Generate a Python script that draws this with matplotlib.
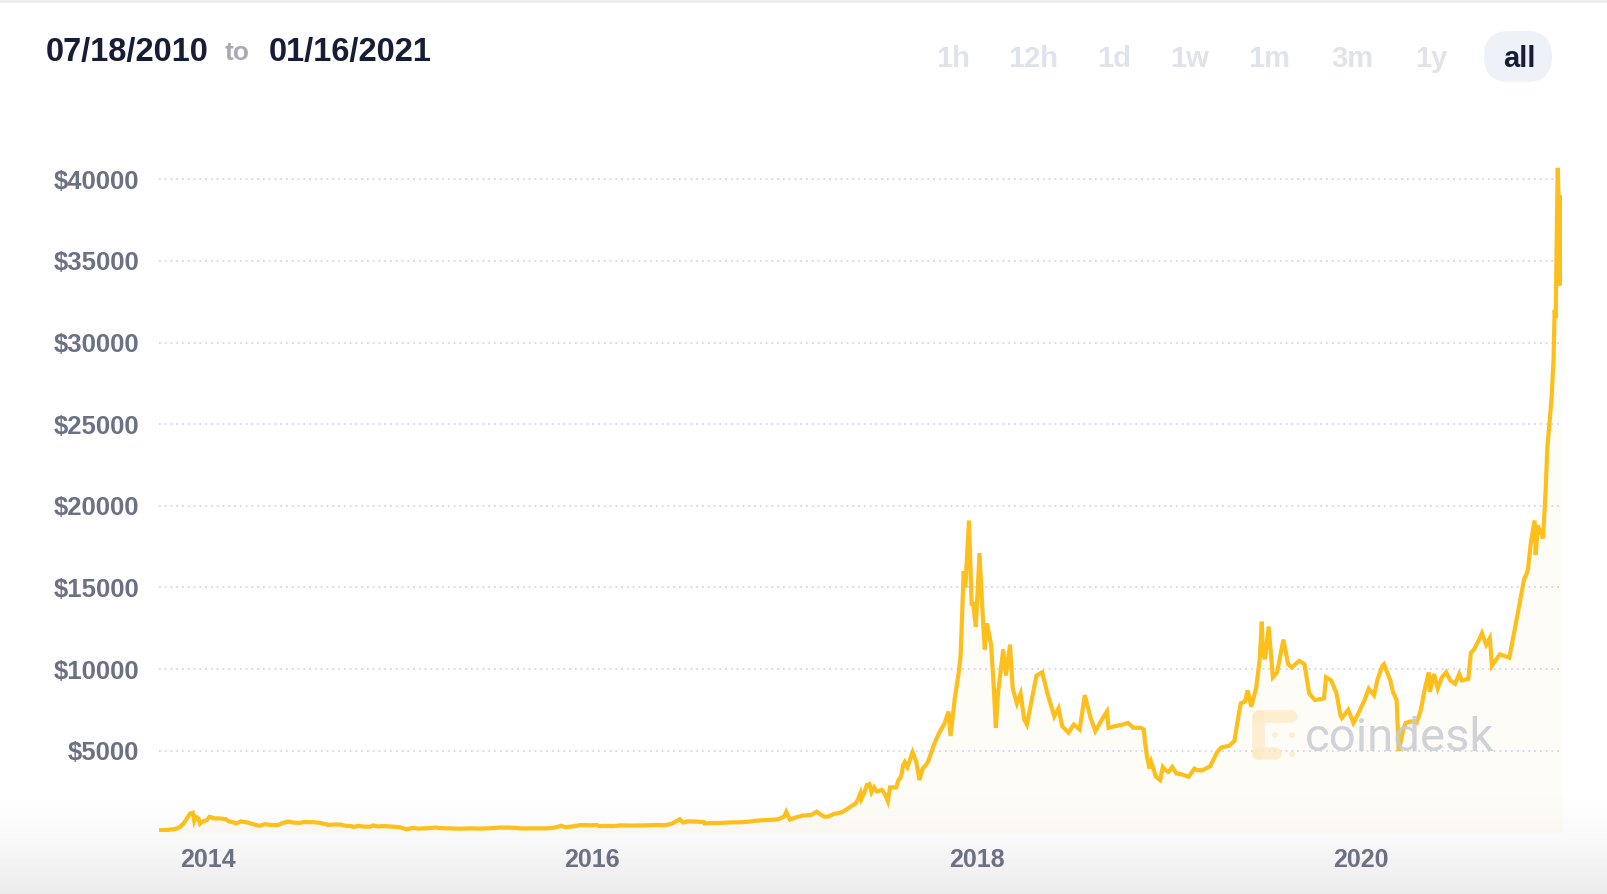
"""
Bitcoin price chart (coindesk style)
"""

import numpy as np
import pandas as pd
import matplotlib

matplotlib.use("Agg")
import matplotlib.pyplot as plt
import matplotlib.dates as mdates
from matplotlib.patches import Circle, FancyBboxPatch


# price points, grouped per year
d2013 = ["2013-10-01", "2013-10-15", "2013-11-01", "2013-11-10", "2013-11-18", "2013-11-22",
         "2013-11-29", "2013-12-04", "2013-12-07", "2013-12-10", "2013-12-15", "2013-12-18",
         "2013-12-22", "2013-12-31"]
p2013 = [125, 140, 205, 330, 600, 800, 1150, 1200, 700, 950, 850, 530, 650, 750]

d2014 = ["2014-01-05", "2014-01-15", "2014-01-25", "2014-02-05", "2014-02-10", "2014-02-20",
         "2014-02-25", "2014-03-05", "2014-03-20", "2014-04-01", "2014-04-10", "2014-04-20",
         "2014-05-01", "2014-05-15", "2014-05-25", "2014-06-03", "2014-06-15", "2014-06-25",
         "2014-07-05", "2014-07-20", "2014-08-01", "2014-08-15", "2014-08-18", "2014-09-01",
         "2014-09-10", "2014-09-20", "2014-10-01", "2014-10-05", "2014-10-15", "2014-10-25",
         "2014-11-05", "2014-11-12", "2014-11-20", "2014-12-01", "2014-12-15", "2014-12-31"]
p2014 = [950, 850, 850, 800, 680, 600, 550, 670, 590, 460, 400, 500,
         450, 445, 580, 650, 590, 580, 630, 620, 590, 490, 450, 480,
         475, 400, 380, 330, 390, 350, 340, 420, 360, 380, 350, 320]

d2015 = ["2015-01-05", "2015-01-14", "2015-01-25", "2015-02-05", "2015-02-20", "2015-03-10",
         "2015-03-25", "2015-04-10", "2015-04-25", "2015-05-15", "2015-06-01", "2015-06-20",
         "2015-07-10", "2015-07-25", "2015-08-10", "2015-08-20", "2015-09-10", "2015-10-01",
         "2015-10-20", "2015-11-04", "2015-11-11", "2015-11-25", "2015-12-10", "2015-12-31"]
p2015 = [275, 180, 270, 225, 245, 290, 250, 235, 220, 240, 225, 245,
         290, 290, 265, 235, 240, 238, 270, 400, 310, 360, 440, 430]

d2016 = ["2016-01-10", "2016-01-15", "2016-01-25", "2016-02-10", "2016-02-25", "2016-03-10",
         "2016-03-25", "2016-04-15", "2016-05-01", "2016-05-20", "2016-06-01", "2016-06-16",
         "2016-06-22", "2016-07-01", "2016-07-15", "2016-08-01", "2016-08-02", "2016-08-15",
         "2016-09-01", "2016-09-20", "2016-10-10", "2016-10-25", "2016-11-05", "2016-11-20",
         "2016-12-05", "2016-12-20", "2016-12-31"]
p2016 = [450, 380, 390, 380, 425, 415, 415, 430, 450, 440, 530, 800,
         600, 670, 660, 620, 540, 570, 575, 605, 615, 650, 700, 740,
         760, 800, 960]

d2017 = ["2017-01-04", "2017-01-11", "2017-01-20", "2017-02-05", "2017-02-20", "2017-03-03",
         "2017-03-10", "2017-03-18", "2017-03-25", "2017-04-05", "2017-04-20", "2017-05-05",
         "2017-05-15", "2017-05-20", "2017-05-25", "2017-05-27", "2017-06-01", "2017-06-06",
         "2017-06-11", "2017-06-15", "2017-06-20", "2017-06-25", "2017-07-05", "2017-07-10",
         "2017-07-16", "2017-07-20", "2017-08-01", "2017-08-05", "2017-08-10", "2017-08-14",
         "2017-08-17", "2017-08-22", "2017-09-01", "2017-09-08", "2017-09-14", "2017-09-20",
         "2017-09-28", "2017-10-01", "2017-10-12", "2017-10-20", "2017-11-01", "2017-11-08",
         "2017-11-12", "2017-11-20", "2017-11-28", "2017-12-01", "2017-12-07", "2017-12-10",
         "2017-12-17", "2017-12-22", "2017-12-25", "2017-12-30"]
p2017 = [1250, 780, 890, 1030, 1060, 1260, 1100, 950, 970, 1130, 1230, 1550,
         1750, 2000, 2400, 2050, 2400, 2900, 2950, 2450, 2750, 2500, 2600, 2350,
         1900, 2750, 2750, 3200, 3400, 4100, 4300, 4000, 4900, 4300, 3200, 3900,
         4200, 4400, 5400, 6000, 6700, 7400, 5900, 8200, 9900, 10800, 16000, 15000,
         19100, 14000, 14000, 12600]

d2018 = ["2018-01-06", "2018-01-10", "2018-01-16", "2018-01-20", "2018-01-28", "2018-02-02",
         "2018-02-06", "2018-02-10", "2018-02-20", "2018-02-25", "2018-03-05", "2018-03-10",
         "2018-03-18", "2018-03-25", "2018-04-01", "2018-04-06", "2018-04-15", "2018-04-24",
         "2018-05-05", "2018-05-15", "2018-05-28", "2018-06-05", "2018-06-12", "2018-06-24",
         "2018-07-04", "2018-07-15", "2018-07-25", "2018-08-05", "2018-08-14", "2018-08-28",
         "2018-09-05", "2018-09-08", "2018-09-20", "2018-10-05", "2018-10-15", "2018-10-25",
         "2018-11-08", "2018-11-14", "2018-11-16", "2018-11-20", "2018-11-25", "2018-11-28",
         "2018-12-07", "2018-12-15", "2018-12-20", "2018-12-25", "2018-12-31"]
p2018 = [17100, 14500, 11200, 12800, 11500, 8900, 6400, 8500, 11200, 9600, 11500, 8800,
         7900, 8500, 6900, 6600, 8100, 9600, 9800, 8500, 7100, 7600, 6500, 6100,
         6600, 6300, 8400, 7000, 6200, 7000, 7400, 6400, 6500, 6600, 6700, 6400,
         6400, 6300, 5600, 4600, 3900, 4300, 3400, 3200, 4000, 3800, 3700]

d2019 = ["2019-01-07", "2019-01-15", "2019-01-25", "2019-02-07", "2019-02-18", "2019-02-24",
         "2019-03-05", "2019-03-20", "2019-04-02", "2019-04-10", "2019-04-25", "2019-05-05",
         "2019-05-12", "2019-05-17", "2019-05-25", "2019-05-30", "2019-06-06", "2019-06-15",
         "2019-06-22", "2019-06-26", "2019-06-28", "2019-07-02", "2019-07-09", "2019-07-15",
         "2019-07-17", "2019-07-25", "2019-08-06", "2019-08-15", "2019-08-22", "2019-09-05",
         "2019-09-15", "2019-09-24", "2019-10-05", "2019-10-22", "2019-10-26", "2019-11-05",
         "2019-11-15", "2019-11-22", "2019-11-25", "2019-12-07", "2019-12-17", "2019-12-25"]
p2019 = [4000, 3600, 3550, 3400, 3900, 3800, 3800, 4050, 4900, 5200, 5300, 5600,
         7000, 7900, 8000, 8700, 7700, 8800, 10600, 12900, 11000, 10600, 12600, 10300,
         9500, 9800, 11800, 10300, 10100, 10500, 10300, 8500, 8100, 8200, 9500, 9300,
         8500, 7200, 7000, 7500, 6700, 7200]

d2020 = ["2020-01-07", "2020-01-15", "2020-01-25", "2020-02-01", "2020-02-10", "2020-02-13",
         "2020-02-25", "2020-03-01", "2020-03-08", "2020-03-12", "2020-03-13", "2020-03-20",
         "2020-03-25", "2020-04-05", "2020-04-15", "2020-04-23", "2020-04-30", "2020-05-08",
         "2020-05-10", "2020-05-18", "2020-05-25", "2020-06-02", "2020-06-10", "2020-06-18",
         "2020-06-27", "2020-07-05", "2020-07-10", "2020-07-22", "2020-07-27", "2020-08-02",
         "2020-08-10", "2020-08-17", "2020-08-25", "2020-09-01", "2020-09-05", "2020-09-20",
         "2020-10-08", "2020-10-21", "2020-11-05", "2020-11-12", "2020-11-18", "2020-11-25",
         "2020-11-27", "2020-12-01", "2020-12-11", "2020-12-16", "2020-12-19", "2020-12-27",
         "2020-12-31"]
p2020 = [8100, 8800, 8400, 9400, 10200, 10300, 9300, 8600, 8100, 5000, 5200, 6200,
         6700, 6800, 6700, 7500, 8700, 9800, 8600, 9700, 8800, 9500, 9800, 9300,
         9100, 9700, 9300, 9400, 11000, 11200, 11700, 12200, 11500, 11900, 10200, 10900,
         10700, 12900, 15500, 16000, 17800, 19100, 17000, 18800, 18000, 21000, 23500, 26500,
         29000]

d2021 = ["2021-01-02", "2021-01-04", "2021-01-07", "2021-01-08", "2021-01-10", "2021-01-11",
         "2021-01-12", "2021-01-14", "2021-01-15", "2021-01-16"]
p2021 = [32000, 31500, 39000, 40700, 38000, 34000, 33500, 39000, 36800, 37000]

y_ticks = [5000, 10000, 15000, 20000, 25000, 30000, 35000, 40000]
x_ticks = ["2014-01-01", "2016-01-01", "2018-01-01", "2020-01-01"]
range_start = "07/18/2010"
range_end = "01/16/2021"
buttons = ["1h", "12h", "1d", "1w", "1m", "3m", "1y", "all"]

LINE = "#fcbf1b"
DARK = "#161d36"
GREY = "#6b7084"
W, H = 1608, 894


def plot_chart():
    dates = pd.to_datetime(d2013 + d2014 + d2015 + d2016 + d2017 + d2018 + d2019 + d2020 + d2021)
    prices = np.array(p2013 + p2014 + p2015 + p2016 + p2017 + p2018 + p2019 + p2020 + p2021)

    fig = plt.figure(figsize=(W / 100, H / 100), dpi=100)

    # soft grey shade at the bottom of the card
    bg = fig.add_axes([0, 0, 1, 1], zorder=0)
    bg.set_axis_off()
    rows = np.arange(H)
    t = np.clip((rows - 780) / (H - 780), 0, 1)
    shade = (1 - 0.08 * t ** 1.6).reshape(-1, 1)
    bg.imshow(shade, aspect="auto", cmap="gray", vmin=0, vmax=1, extent=[0, 1, 0, 1])

    y0 = 832.3
    ymax = 42000
    top = y0 - ymax / 5000 * 81.63
    left, right = 159, 1562
    ax = fig.add_axes([left / W, 1 - y0 / H, (right - left) / W, (y0 - top) / H], zorder=1)
    ax.set_facecolor("none")

    ax.fill_between(dates, prices, 0, color=LINE, alpha=0.035, lw=0)
    ax.plot(dates, prices, color=LINE, lw=3.0, solid_joinstyle="miter")

    ax.set_xlim(dates[0], dates[-1])
    ax.set_ylim(0, ymax)
    ax.set_yticks(y_ticks)
    ax.set_yticklabels([f"${v}" for v in y_ticks])
    ax.set_xticks(pd.to_datetime(x_ticks))
    ax.xaxis.set_major_formatter(mdates.DateFormatter("%Y"))
    ax.yaxis.grid(True, color="#d3d8ef", linestyle=(0, (1, 2.2)), lw=1.3)
    ax.set_axisbelow(True)
    for s in ax.spines.values():
        s.set_visible(False)
    ax.tick_params(axis="y", length=0, pad=14, labelsize=18.5, labelcolor=GREY)
    ax.tick_params(axis="x", length=0, pad=11, labelsize=18, labelcolor=GREY)
    for lab in ax.get_xticklabels() + ax.get_yticklabels():
        lab.set_fontfamily("Liberation Sans")
        lab.set_fontweight("bold")

    # overlay in pixel coordinates for header and watermark
    ov = fig.add_axes([0, 0, 1, 1], zorder=3)
    ov.set_xlim(0, W)
    ov.set_ylim(H, 0)
    ov.set_axis_off()
    ov.patch.set_alpha(0)

    ov.plot([0, W], [1, 1], color="#eeeeee", lw=2)

    font = dict(family="Liberation Sans", weight="bold")
    ov.text(46, 52, range_start, fontsize=23.5, color=DARK, va="center", **font)
    ov.text(225, 53, "to", fontsize=19, color="#a8abb6", va="center", **font)
    ov.text(269, 52, range_end, fontsize=23.5, color=DARK, va="center", **font)

    ov.add_patch(FancyBboxPatch((1484, 31), 68, 51, boxstyle="round,pad=0,rounding_size=25",
                                facecolor="#eef1f7", edgecolor="none"))
    btn_x = [953, 1033, 1114, 1190, 1269, 1352, 1431, 1519]
    for x, b in zip(btn_x, buttons):
        c = DARK if b == "all" else "#e0e2ec"
        ov.text(x, 59, b, fontsize=21, color=c, ha="center", va="center", **font)

    # coindesk watermark
    logo = "#fde9c2"
    ov.plot([1258, 1291], [716, 716], color=logo, lw=9, solid_capstyle="round", alpha=0.7)
    ov.plot([1258, 1258], [716, 753], color=logo, lw=9, solid_capstyle="round", alpha=0.7)
    ov.plot([1258, 1275], [753, 753], color=logo, lw=9, solid_capstyle="round", alpha=0.7)
    for bx, by, r in [(1275, 735, 3), (1292, 735, 3), (1292, 754, 3)]:
        ov.add_patch(Circle((bx, by), r, facecolor=logo, edgecolor="none", alpha=0.7))
    ov.text(1305, 751, "coindesk", fontsize=34, color="#c8cbd4", alpha=0.85,
            family="Roboto", weight="normal", va="baseline")

    fig.savefig("out.png", dpi=100)


if __name__ == "__main__":
    plot_chart()
